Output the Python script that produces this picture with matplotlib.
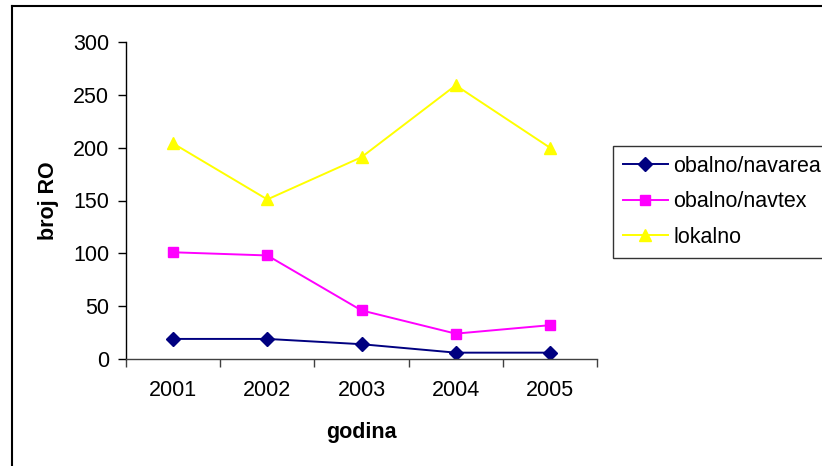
import matplotlib.pyplot as plt
from matplotlib.lines import Line2D

plt.rcParams['font.family'] = ['Liberation Sans', 'DejaVu Sans']

years = ['2001', '2002', '2003', '2004', '2005']
navarea = [19, 19, 14, 6, 6]
navtex = [101, 98, 46, 24, 32]
lokalno = [204, 151, 191, 259, 200]

W, H = 822, 466
fig = plt.figure(figsize=(W / 100, H / 100), dpi=100)
ax = fig.add_axes([126 / W, 1 - 359 / H, (597 - 126) / W, (359 - 42) / H])

x = range(len(years))
ax.plot(x, navarea, color='#000080', marker='D', markersize=7, lw=1.4, label='obalno/navarea')
ax.plot(x, navtex, color='#FF00FF', marker='s', markersize=7.5, lw=1.4, label='obalno/navtex')
ax.plot(x, lokalno, color='#FFFF00', marker='^', markersize=9, lw=1.4, label='lokalno')

ax.set_xlim(-0.5, len(years) - 0.5)
ax.set_ylim(0, 300)
ax.set_yticks(range(0, 301, 50))
ax.set_xticks([i - 0.5 for i in range(len(years) + 1)])
ax.set_xticklabels([])
ax.set_xticks(list(x), minor=True)
ax.set_xticklabels(years, minor=True)
ax.tick_params(axis='x', which='minor', length=0, pad=15, labelsize=15.5)
ax.tick_params(axis='x', which='major', length=6, width=1, color='#404040')
ax.tick_params(axis='y', length=6, width=1, labelsize=15.5, pad=6)

for s in ['top', 'right']:
    ax.spines[s].set_visible(False)
ax.spines['left'].set_linewidth(1)
ax.spines['bottom'].set_linewidth(1)
ax.spines['bottom'].set_color('#404040')

ax.set_xlabel('godina', fontsize=15.5, fontweight='bold', labelpad=15)
ax.set_ylabel('broj RO', fontsize=15.5, fontweight='bold', labelpad=10)

leg = fig.legend(loc='upper left', bbox_to_anchor=(613 / W, 1 - 146 / H),
                 fontsize=15.5, frameon=True, fancybox=False, edgecolor='black',
                 handlelength=2.1, handletextpad=0.25, labelspacing=0.68,
                 borderpad=0.45, borderaxespad=0)
leg.get_frame().set_linewidth(1)

# outer border (left and top only visible in the crop)
fig.add_artist(Line2D([12 / W, 12 / W], [0, 1 - 6 / H], color='black', lw=1.5, transform=fig.transFigure))
fig.add_artist(Line2D([12 / W, 1], [1 - 6 / H, 1 - 6 / H], color='black', lw=1.5, transform=fig.transFigure))

fig.savefig('out.png', dpi=100)
